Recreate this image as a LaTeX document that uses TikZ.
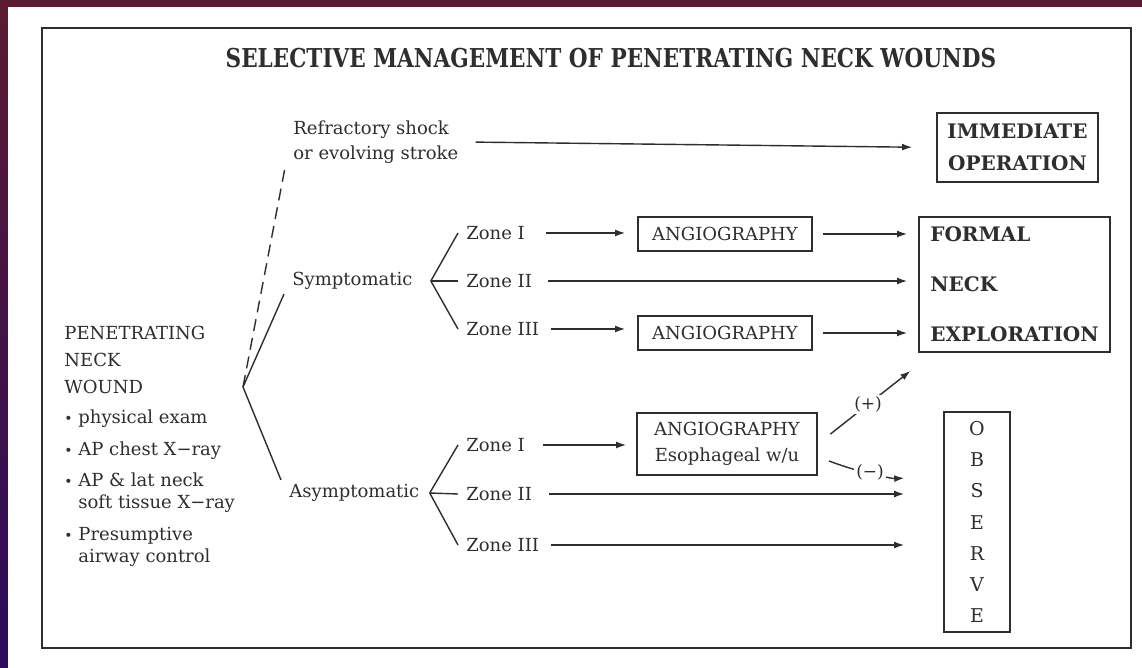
\documentclass[tikz,border=0pt]{standalone}
\usepackage{fontspec}
\setmainfont{DejaVu Serif}
\newfontfamily\titlefont[FakeStretch=0.83]{DejaVu Serif}
\usetikzlibrary{positioning, arrows.meta}
\definecolor{ink}{HTML}{2E2E2E}
\definecolor{maroon}{HTML}{5A1A31}
\definecolor{indigo}{HTML}{2A0B5C}
\newcommand{\bul}{\makebox[7pt][l]{\fontsize{7}{7}\selectfont•}}

\begin{document}
\begin{tikzpicture}[
     x = 0.5pt, y = -0.5pt,
     >={Latex[length=5pt,width=3.4pt]},
every node/.style = {text=ink},
        txt/.style = {anchor=west, inner xsep=4pt, inner ysep=2pt,
                     font=\fontsize{9}{12.5}\selectfont},
        box/.style = {rectangle, draw=ink, line width=0.8pt, fill=#1,
                     align=center, font=\fontsize{9}{13}\selectfont},
        arr/.style = {->, draw=ink, line width=0.7pt,
                     shorten <=5pt, shorten >=5.5pt},
        lnk/.style = {draw=ink, line width=0.7pt},
        lbl/.style = {fill=white, inner sep=1pt, font=\fontsize{8.5}{10}\selectfont}
                        ]
\useasboundingbox (0,0) rectangle (1142,668);
\fill[maroon] (0,0) rectangle (1142,668);
\shade[top color=maroon, bottom color=indigo] (0,7) rectangle (8,668);
\fill[white] (8,7) rectangle (1142,668);
\draw[ink, line width=1pt] (42,28) rectangle (1131,648);

\node (title) at (611,58) {\titlefont\bfseries\fontsize{13}{15}\selectfont
    SELECTIVE MANAGEMENT OF PENETRATING NECK WOUNDS};

\node (wound) [txt, anchor=north west, align=left, inner ysep=0pt,
    font=\fontsize{9}{11}\selectfont] at (56,326)
    {PENETRATING\\[2.5pt] NECK\\[2.5pt] WOUND\\[4pt]
     \bul physical exam\\[5pt]
     \bul AP chest X−ray\\[4.5pt]
     \bul AP \& lat neck\\ \hspace*{7pt}soft tissue X−ray\\[5pt]
     \bul Presumptive\\ \hspace*{7pt}airway control};
\coordinate (fork) at (243,387);

\node (refr) [txt, align=left] at (285,142) {Refractory shock\\or evolving stroke};
\node (immed) [box=white, minimum width=80.5pt, minimum height=34.5pt,
    font=\bfseries\fontsize{10}{16}\selectfont] at (1017.5,147.5) {IMMEDIATE\\OPERATION};

\node (symp) [txt] at (284,281) {Symptomatic};
\coordinate [right=5pt of symp] (sfork);
\node (sz1) [txt] at (458,233) {Zone I};
\node (sz2) [txt] at (458,281) {Zone II};
\node (sz3) [txt] at (458,329) {Zone III};
\node (angio1) [box=white, minimum width=87pt, minimum height=17pt] at (725,234) {ANGIOGRAPHY};
\node (angio2) [box=white, minimum width=87pt, minimum height=17pt] at (725,333) {ANGIOGRAPHY};
\node (formal) [box=white, align=left, minimum width=95.5pt, minimum height=67.5pt,
    font=\bfseries\fontsize{10}{25}\selectfont] at (1014.5,284.5) {FORMAL\\NECK\\EXPLORATION};

\node (asym) [txt] at (281,493) {Asymptomatic};
\coordinate [right=1pt of asym] (afork);
\node (az1) [txt] at (458,445) {Zone I};
\node (az2) [txt] at (458,494) {Zone II};
\node (az3) [txt] at (458,545) {Zone III};
\node (angio3) [box=white, minimum width=90pt, minimum height=31pt] at (727,444)
    {ANGIOGRAPHY\\Esophageal w/u};
\node (observe) [box=white, minimum width=33pt, minimum height=110pt,
    font=\fontsize{9.5}{15.6}\selectfont] at (977,522) {O\\B\\S\\E\\R\\V\\E};

\draw[lnk, dash pattern=on 6pt off 3.5pt] (fork) -- (refr.south west);
\draw[lnk] (fork) -- (symp.south west);
\draw[lnk] (fork) -- (asym.north west);
\draw[lnk] (sfork) -- (sz1.west);
\draw[lnk] (sfork) -- (sz2.west);
\draw[lnk] (sfork) -- (sz3.west);
\draw[lnk] (afork) -- (az1.west);
\draw[lnk] (afork) -- (az2.west);
\draw[lnk] (afork) -- (az3.west);

\draw[arr, shorten <=4.5pt, shorten >=12pt] (refr.east) -- (immed.west);
\draw[arr, shorten <=6.5pt, shorten >=6pt] (sz1.east) -- (sz1.east -| angio1.west);
\draw[arr] (angio1.east) -- (angio1.east -| formal.west);
\draw[arr, shorten <=4pt] (sz2.east) -- (sz2.east -| formal.west);
\draw[arr, shorten <=2pt, shorten >=6pt] (sz3.east) -- (sz3.east -| angio2.west);
\draw[arr] (angio2.east) -- (angio2.east -| formal.west);

\draw[arr, shorten <=5pt, shorten >=5pt] (az1.east) -- (az1.east -| angio3.west);
\draw[arr, shorten <=8pt, shorten >=5pt] (angio3.east) -- node[lbl] {(+)}
    ([yshift=-6pt]formal.south west);
\draw[arr, shorten <=6pt, shorten >=19.5pt] (angio3.-8) to[bend right=12]
    node[lbl, pos=0.42] {(−)} (angio3.south east -| observe.west);
\draw[arr, shorten <=4.5pt, shorten >=19.5pt] (az2.east) -- (az2.east -| observe.west);
\draw[arr, shorten <=2pt, shorten >=19.5pt] (az3.east) -- (az3.east -| observe.west);
\end{tikzpicture}
\end{document}
